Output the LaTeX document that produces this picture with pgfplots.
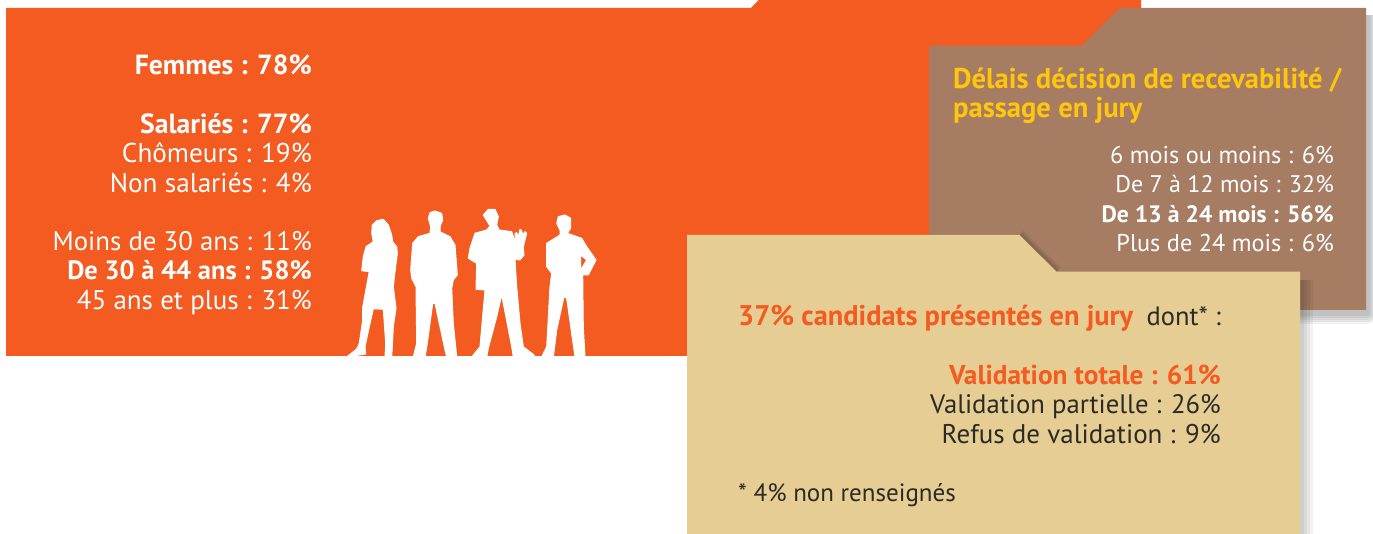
\documentclass[border=0pt]{standalone}
\usepackage{fontspec}
\setmainfont{PT Sans}
\usepackage{pgfplots}
\usepackage{pgfplotstable}
\pgfplotsset{compat=1.18}

\definecolor{cOrange}{HTML}{F45B20}
\definecolor{cBrown}{HTML}{A67C63}
\definecolor{cTan}{HTML}{E5CD94}
\definecolor{cYellow}{HTML}{FFC60B}
\definecolor{cDark}{HTML}{2B2A25}

% panel outlines, in pixels of the reference
\pgfplotstableread{
x y
0 0
1373 0
1373 534
0 534
}\page
\pgfplotstableread{
x y
6 8
751 8
758.7 0
1141 0
1141 356
6 356
}\orangepanel
\pgfplotstableread{
x y
929 45.7
1082 45.7
1120 8
1366 8
1366 310
929 310
}\brownpanel
\pgfplotstableread{
x y
687 235
1019.5 235
1056.6 271.7
1300 271.7
1300 560
687 560
}\tanpanel
% edges that throw a shadow
\pgfplotstableread{
x y
1366 12
1366 310
935 310
}\brownedge
\pgfplotstableread{
x y
1019.5 235
1056.6 271.7
}\tanslant
\pgfplotstableread{
x y
1300 280
1300 560
}\tanright

% soft shadow: the edge stroked several times, faint and shifted
\newcommand{\softshadow}[4]{%
  \addplot[draw=black, opacity=0.05, line width=#4pt, line join=round, forget plot]
    table[x expr=\thisrow{x}+#2, y expr=\thisrow{y}+#3] {#1};}

\newcommand{\txt}[6][white]{% colour, x, y, anchor, size, text
  \node[text=#1, anchor=base #4, inner sep=0pt] at (axis cs:#2,#3)
    {\fontsize{#5}{#5}\selectfont #6};}

\begin{document}
\begin{tikzpicture}
\begin{axis}[
    scale only axis,
    width=1373pt, height=534pt,
    xmin=0, xmax=1373, ymin=0, ymax=534,
    y dir=reverse,
    axis lines=none,
    person/.style={fill=white, draw=white, line width=1pt, line join=round},
]
\addplot[fill=white, draw=none] table {\page};
\addplot[fill=cOrange, draw=none] table {\orangepanel};

% brown panel
\softshadow{\brownedge}{1}{3}{22}
\softshadow{\brownedge}{1}{3}{18}
\softshadow{\brownedge}{1}{3}{14}
\softshadow{\brownedge}{1}{3}{10}
\softshadow{\brownedge}{1}{3}{6}
\addplot[fill=cBrown, draw=none] table {\brownpanel};

% tan panel
\softshadow{\tanslant}{0}{0}{12}
\softshadow{\tanslant}{0}{0}{9}
\softshadow{\tanslant}{0}{0}{6}
\softshadow{\tanslant}{0}{0}{3}
\softshadow{\tanright}{1}{0}{24}
\softshadow{\tanright}{1}{0}{18}
\softshadow{\tanright}{1}{0}{12}
\softshadow{\tanright}{1}{0}{6}
\addplot[fill=cTan, draw=none] table {\tanpanel};

% silhouettes
\addplot[person] coordinates {
  (371.7,233.3) (372.3,225) (376.7,220.7) (383.3,219.3) (388.3,225) (391.7,235)
  (392.7,241.7) (396.7,246.7) (397.3,253.3) (395,271.7) (393.3,286.7) (396,308.3)
  (393.3,326.7) (392.3,346.7) (391.7,357) (385,357) (385.7,343.3) (383.3,309.3)
  (373.3,308.7) (369.3,326.7) (365,346.7) (365.7,354) (346.7,357) (356.7,349)
  (359.3,343.3) (362.7,320) (362.7,307.3) (368.3,276.7) (369.3,271.7) (361.7,270.7)
  (363.3,256.7) (366,246.7) (373.3,241.7) (371.7,233.3)
};
\addplot[person] coordinates {
  (428.3,218.3) (430,212.7) (435,211) (441.7,213.3) (442.7,220) (440,226.7)
  (440,231.7) (450,236.7) (455,245) (457.3,275) (453.3,280) (451.7,288.3)
  (453.3,323.3) (455.7,346.7) (456.7,357) (446.7,357) (445,350) (435,303.3)
  (432.7,303.3) (427.3,343.3) (425,357) (413.3,357) (416.7,343.3) (416,286.7)
  (411.7,278.3) (410.7,270) (412.7,243.3) (418.3,236.7) (430,233.3) (430.7,226.7)
  (428.3,218.3)
};
\addplot[person] coordinates {
  (483.3,215) (488.3,209.3) (495,209.3) (498.3,216.7) (496.7,225) (499.3,230)
  (511.7,231.7) (515.7,243.3) (515,233.3) (516.7,232.7) (518.3,236.7) (520,229.3)
  (521.7,230.7) (522.7,235) (525,231.7) (526.7,233.3) (523.3,246.7) (524,255)
  (520,260) (515,259.3) (516.7,286.7) (520,323.3) (523.3,346.7) (534,355) (534,357)
  (513.3,357) (511.7,346.7) (501.7,295) (496.7,316.7) (488.3,348.3) (486.7,357)
  (471.7,357) (480,346.7) (485,290) (476,289.3) (476.7,263.3) (468.3,258.3)
  (470,248.3) (475,233.3) (486.7,230) (490,226) (483.3,215)
};
\addplot[person] coordinates {
  (556.7,223.3) (558.3,216.7) (565,215) (570.7,218.3) (570.7,228.3) (567.3,233.3)
  (581.7,238.3) (586.7,246.7) (596,260) (588.3,275) (581.7,275) (580.7,270)
  (586.7,260) (580.7,255) (580.7,270) (582.7,275) (583.3,326.7) (585,357) (575,357)
  (566.7,298.3) (564,296.7) (556.7,330) (553.3,357) (541.7,357) (546.7,346.7)
  (550,286.7) (551.7,273.3) (546.7,266.7) (546.7,243.3) (560,235) (560,230)
  (556.7,223.3)
};

% left block
\txt{312}{75}{east}{27.7}{\bfseries Femmes : 78\%}
\txt{312}{133.5}{east}{27.7}{\bfseries Salariés : 77\%}
\txt{312}{163}{east}{27.2}{Chômeurs : 19\%}
\txt{312}{192.5}{east}{27.2}{Non salariés : 4\%}
\txt{312}{250.5}{east}{26.8}{Moins de 30 ans : 11\%}
\txt{312}{279.5}{east}{26.5}{\bfseries De 30 à 44 ans : 58\%}
\txt{312}{309.5}{east}{27}{45 ans et plus : 31\%}

% brown block
\txt[cYellow]{953}{88.5}{west}{28.6}{\bfseries Délais décision de recevabilité /}
\txt[cYellow]{953}{117.5}{west}{28.6}{\bfseries passage en jury}
\txt{1334}{163.5}{east}{24.3}{6 mois ou moins : 6\%}
\txt{1334}{193}{east}{24}{De 7 à 12 mois : 32\%}
\txt{1334}{222.5}{east}{23.7}{\bfseries De 13 à 24 mois : 56\%}
\txt{1334}{251.5}{east}{24.3}{Plus de 24 mois : 6\%}

% tan block
\txt[cOrange]{738}{326}{west}{28.4}{\bfseries 37\% candidats présentés en jury}
\txt[cDark]{1221}{326}{east}{26.5}{dont* :}
\txt[cOrange]{1221}{384.5}{east}{27.3}{\bfseries Validation totale : 61\%}
\txt[cDark]{1221}{413.5}{east}{26.7}{Validation partielle : 26\%}
\txt[cDark]{1221}{443.5}{east}{27}{Refus de validation : 9\%}
\txt[cDark]{738}{501}{west}{25}{* 4\% non renseignés}
\end{axis}
\end{tikzpicture}
\end{document}
